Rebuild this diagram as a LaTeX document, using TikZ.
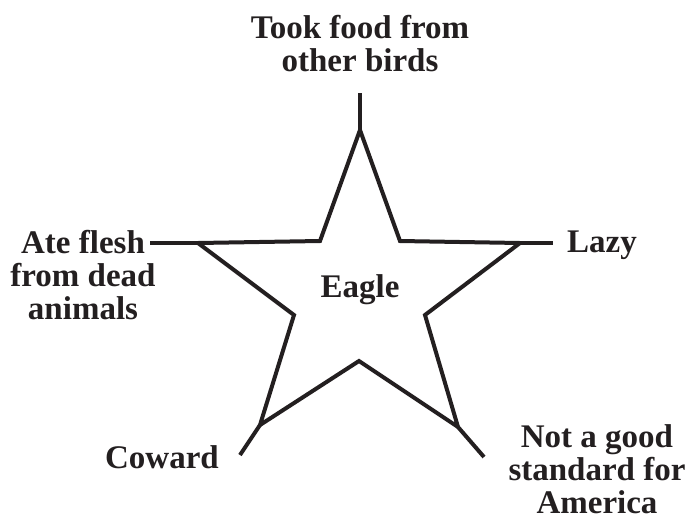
\documentclass[tikz,border=0pt]{standalone}
\usepackage{fontspec}
\setmainfont{Liberation Serif}
\usetikzlibrary{positioning}
\definecolor{StarBlack}{HTML}{231F20}
\tikzset{
    % Label styles
    trait/.style={
        align=center,
        inner sep=0pt,
        text=StarBlack,
        font=\fontsize{33}{33}\selectfont\bfseries
    },
    % Line styles
    starline/.style={
        line width=4pt,
        draw=StarBlack,
        line join=miter
    },
    spoke/.style={
        line width=4pt,
        draw=StarBlack
    }
}
\begin{document}
\begin{tikzpicture}[x=1pt, y=-1pt]
    \useasboundingbox (0,0) rectangle (686,520);

    % Star outline
    \coordinate (tipT) at (360,130);
    \coordinate (inTR) at (400,241);
    \coordinate (tipR) at (520,243);
    \coordinate (inBR) at (425,315);
    \coordinate (tipBR) at (458,427);
    \coordinate (inB) at (359,361);
    \coordinate (tipBL) at (260,425);
    \coordinate (inBL) at (294,315);
    \coordinate (tipL) at (198,243);
    \coordinate (inTL) at (320,241);
    \draw[starline] (tipT) -- (inTR) -- (tipR) -- (inBR) -- (tipBR) -- (inB)
        -- (tipBL) -- (inBL) -- (tipL) -- (inTL) -- cycle;

    % Free ends of the spokes
    \coordinate (endT) at (360,93);
    \coordinate (endR) at (553,243);
    \coordinate (endBR) at (484,457);
    \coordinate (endBL) at (240,455);
    \coordinate (endL) at (150,243);

    \draw[spoke] (tipT) -- (endT);
    \draw[spoke] (tipR) -- (endR);
    \draw[spoke] (tipBR) -- (endBR);
    \draw[spoke] (tipBL) -- (endBL);
    \draw[spoke] (tipL) -- (endL);

    % Labels
    \node[trait] (eagle) at (360,290) {Eagle};
    \node[trait] (food) at (360,44) {Took food from\\other birds};
    \node[trait] (flesh) at (83,275) {Ate flesh\\from dead\\animals};
    \node[trait] (lazy) at (602,245) {Lazy};
    \node[trait] (coward) at (162,457) {Coward};
    \node[trait] (standard) at (597,469) {Not a good\\standard for\\America};
\end{tikzpicture}
\end{document}
